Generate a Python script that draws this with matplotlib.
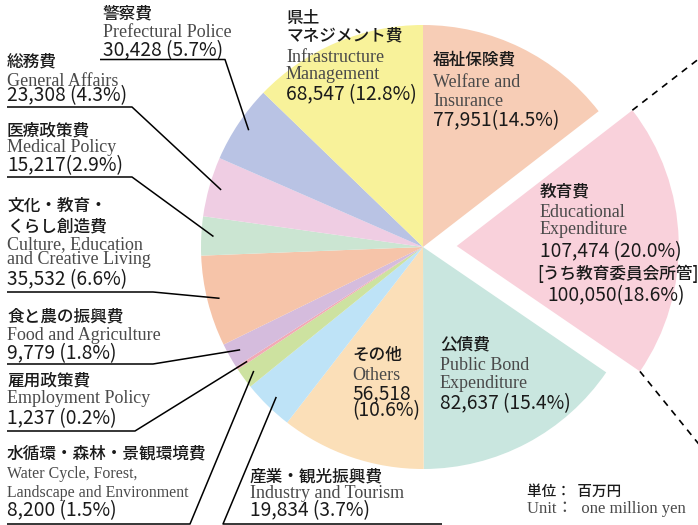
import numpy as np
import matplotlib.pyplot as plt

# budget items, clockwise from the top
names_jp = ['福祉保険費', '教育費', '公債費', 'その他', '産業・観光振興費',
            '水循環・森林・景観環境費', '雇用政策費', '食と農の振興費',
            '文化・教育・\nくらし創造費', '医療政策費', '総務費', '警察費',
            '県土\nマネジメント費']
names_en = ['Welfare and\nInsurance', 'Educational\nExpenditure',
            'Public Bond\nExpenditure', 'Others', 'Industry and Tourism',
            'Water Cycle, Forest,\nLandscape and Environment',
            'Employment Policy', 'Food and Agriculture',
            'Culture, Education\nand Creative Living', 'Medical Policy',
            'General Affairs', 'Prefectural Police',
            'Infrastructure\nManagement']
values = [77951, 107474, 82637, 56518, 19834, 8200, 1237, 9779, 35532,
          15217, 23308, 30428, 68547]
shares = [14.5, 20.0, 15.4, 10.6, 3.7, 1.5, 0.2, 1.8, 6.6, 2.9, 4.3, 5.7, 12.8]
colors = ['#f7cdb6', '#f9d1db', '#c9e6df', '#fbdfb8', '#bee3f7', '#cde2a0',
          '#f2aab5', '#d5bcdd', '#f6c4a9', '#cbe5d2', '#efcde3', '#b9c3e4',
          '#f8f29a']
explode_frac = [0, 0.152, 0, 0, 0, 0, 0, 0, 0, 0, 0, 0, 0]

edu_board_value = 100050
edu_board_share = 18.6

W, H = 698, 525
CX, CY, R = 423, 247, 222

JP = ['Noto Sans CJK JP', 'DejaVu Sans']
EN = ['Liberation Serif', 'DejaVu Serif']
JPSIZE, ENSIZE, NUMSIZE = 12, 13, 13.8
GRAY = '#4a4a4a'
INK = '#1a1a1a'

fig = plt.figure(figsize=(W / 100, H / 100), dpi=100)
ax = fig.add_axes([0, 0, 1, 1])
# pie's explode is in data units, so scale by the radius
wedges, _ = ax.pie(values, colors=colors,
                   explode=[e * R for e in explode_frac], startangle=-90,
                   counterclock=True, center=(CX, CY), radius=R,
                   wedgeprops=dict(linewidth=0))
ax.set_xlim(0, W)
ax.set_ylim(H, 0)
ax.set_aspect('equal')
ax.axis('off')


def fmt(v, s, sep=' '):
    return f'{v:,}{sep}({s}%)'


def label(x, jp_ys, en_ys, num_y, i, sep=' ', num_text=None, en_size=ENSIZE):
    jp_lines = names_jp[i].split('\n')
    for t, y in zip(jp_lines, jp_ys):
        ax.text(x, y, t, family=JP, fontsize=JPSIZE, weight='medium',
                color=INK, va='baseline')
    for t, y in zip(names_en[i].split('\n'), en_ys):
        ax.text(x, y, t, family=EN, fontsize=en_size, color=GRAY,
                va='baseline')
    if num_text is None:
        num_text = fmt(values[i], shares[i], sep)
    ax.text(x, num_y, num_text, family=JP, fontsize=NUMSIZE, color=INK,
            va='baseline')


def leader(i, x_far, x_knee, yu, rfrac=0.945):
    w = wedges[i]
    th = np.deg2rad((w.theta1 + w.theta2) / 2)
    px = w.center[0] + R * rfrac * np.cos(th)
    py = w.center[1] + R * rfrac * np.sin(th)
    ax.plot([x_far, x_knee, px], [yu, yu, py], color='black', lw=1.1,
            solid_capstyle='butt')


# labels in the left column, with leader lines
label(103, [18.5], [37], 56, 11)
leader(11, 100, 225, 59.5)
label(7, [66.5], [86], 101, 10)
leader(10, 7, 132, 107)
label(7, [135], [151.5], 171.5, 9, sep='')
leader(9, 7, 132, 177)
label(7, [211, 231], [249, 263.5], 285, 8)
leader(8, 7, 153, 292)
label(7, [321], [340], 359, 7)
leader(7, 7, 153, 364)
label(7, [385], [403], 424, 6)
leader(6, 7, 135, 431)
label(7, [458.5], [478, 497], 516.5, 5, en_size=11.4)
leader(5, 7, 190, 524)
label(250, [481], [498], 516.5, 4)
leader(4, 442, 223, 524)

# labels inside the pie
label(286, [23, 40], [62.5, 79], 100, 12)
label(433, [64.5], [87, 106], 126, 0, sep='')
label(540, [196], [217, 233.5], 257.5, 1)
ax.text(537, 279, '[うち教育委員会所管]', family=JP, fontsize=JPSIZE,
        weight='medium', color=INK, va='baseline')
ax.text(547, 301.5, fmt(edu_board_value, edu_board_share, ''), family=JP,
        fontsize=NUMSIZE, color=INK, va='baseline')
label(440, [349.5], [370, 388], 409, 2)
ax.text(352, 359.5, names_jp[3], family=JP, fontsize=JPSIZE,
        weight='medium', color=INK, va='baseline')
ax.text(352, 380.5, names_en[3], family=EN, fontsize=ENSIZE, color=GRAY,
        va='baseline')
ax.text(352, 399.5, f'{values[3]:,}', family=JP, fontsize=NUMSIZE,
        color=INK, va='baseline')
ax.text(352, 416.5, f'({shares[3]}%)', family=JP, fontsize=NUMSIZE,
        color=INK, va='baseline')

# dashed guides off the education slice
edu = wedges[1]
for th, ang in [(edu.theta1, edu.theta1), (edu.theta2, 51)]:
    t = np.deg2rad(th)
    x0 = edu.center[0] + R * np.cos(t)
    y0 = edu.center[1] + R * np.sin(t)
    a = np.deg2rad(ang)
    ax.plot([x0, x0 + 120 * np.cos(a)], [y0, y0 + 120 * np.sin(a)],
            color='black', lw=1.2, ls=(0, (4, 3.5)))

# unit note
ax.text(527, 496, '単位：  百万円', family=JP, fontsize=10.5,
        weight='medium', color=INK, va='baseline')
ax.text(527, 513, 'Unit：  one million yen', family=EN + JP, fontsize=12,
        color=GRAY, va='baseline')

fig.savefig('out.png', dpi=100)
